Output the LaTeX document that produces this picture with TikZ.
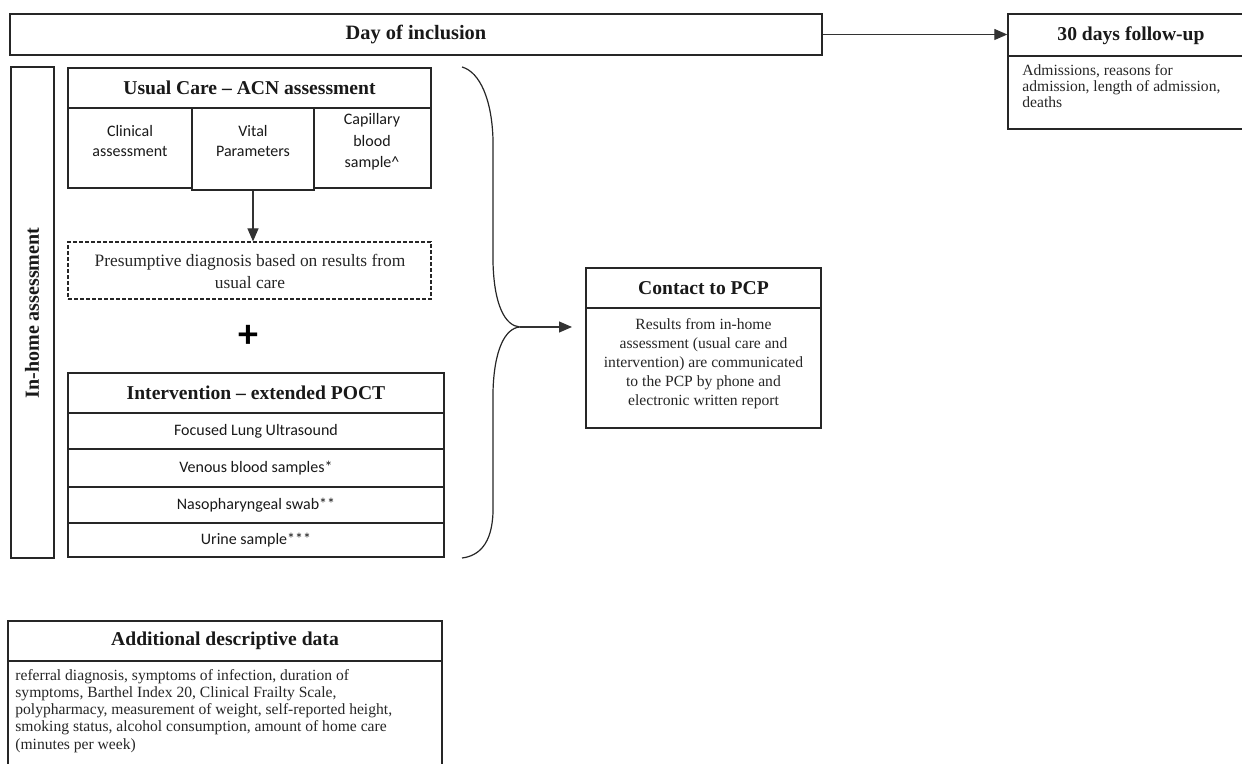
\documentclass[tikz,border=0pt]{standalone}
\usepackage{fontspec}
\setmainfont{Liberation Serif}
\newfontfamily\calfont{Carlito}
\usetikzlibrary{arrows.meta,fit}
\tikzset{
  box/.style={draw=black!85, line width=0.7pt, inner sep=0pt},
  dbox/.style={draw=black!85, line width=0.6pt, dashed, dash pattern=on 2pt off 1pt, inner sep=0pt},
  hdr/.style={inner sep=0pt, font=\fontsize{9.8}{11}\selectfont\bfseries, text=black!90},
  cell/.style={inner sep=0pt, align=center, font=\calfont\fontsize{8}{10}\selectfont, text=black!90},
  body/.style={inner sep=0pt, text=black!85},
  conn/.style={draw=black!80, line width=0.6pt, -{Triangle[length=6.5pt,width=5.5pt]}},
}
\begin{document}
\begin{tikzpicture}[x=0.5pt,y=-0.5pt]
\useasboundingbox (0,0) rectangle (1242,764);
\clip (0,0) rectangle (1242,764);

% Day of inclusion
\node[box, fit={(10,14) (822,55)}] (day) {};
\node[hdr, font=\fontsize{10.2}{12}\selectfont\bfseries] (dayt) at (day.center) {Day of inclusion};

% 30 days follow-up
\node[box, fit={(1008,14) (1254,129)}] (fu) {};
\draw[box] (1008,56) -- (1254,56);
\node[hdr] (fut) at (1131,36) {30 days follow-up};
\node[body, anchor=north west, align=left, font=\fontsize{7.8}{8.1}\selectfont] (fub) at (1022,64)
  {Admissions, reasons for\\admission, length of admission,\\deaths};
\draw[conn] (day.east) -- (day.east -| fu.west);

% In-home assessment
\node[box, fit={(11,67) (54,558)}] (inh) {};
\node[hdr, rotate=90, font=\fontsize{10}{12}\selectfont\bfseries] (inht) at (32,313) {In-home assessment};

% Usual care
\node[box, fit={(68,68) (431,108)}] (uc) {};
\node[hdr] (uct) at (uc.center) {Usual Care -- ACN assessment};
\node[box, fit={(68,108) (192,188)}] (c1) {};
\node[box, fit={(192,108) (314,190)}] (c2) {};
\node[box, fit={(314,108) (431,188)}] (c3) {};
\node[cell] (c1t) at (130,141) {Clinical\\assessment};
\node[cell] (c2t) at (253,141) {Vital\\Parameters};
\node[cell, font=\calfont\fontsize{8}{10.8}\selectfont] (c3t) at (372,142) {Capillary\\blood\\sample\textasciicircum};

% Presumptive diagnosis
\node[dbox, fit={(68,242) (431,299)}] (dx) {};
\node[body, align=center, font=\fontsize{8.7}{11}\selectfont] (dxt) at (250,271)
  {Presumptive diagnosis based on results from\\usual care};
\draw[conn] (c2.south) -- (c2.south |- dx.north);

% plus
\node[inner sep=0pt, font=\calfont\fontsize{20}{20}\selectfont\bfseries] (plus) at (248,336) {+};

% Intervention
\node[box, fit={(68,373) (444,413)}] (iv) {};
\node[hdr] (ivt) at (iv.center) {Intervention -- extended POCT};
\node[box, fit={(68,413) (444,449)}] (r1) {};
\node[box, fit={(68,449) (444,487)}] (r2) {};
\node[box, fit={(68,487) (444,523)}] (r3) {};
\node[box, fit={(68,523) (444,557)}] (r4) {};
\node[cell] (r1t) at (r1.center) {Focused Lung Ultrasound};
\node[cell] (r2t) at (r2.center) {Venous blood samples*};
\node[cell] (r3t) at (r3.center) {Nasopharyngeal swab**};
\node[cell] (r4t) at (r4.center) {Urine sample***};

% Brace
\coordinate (tip) at (520,327);
\draw[draw=black!85, line width=0.6pt]
  (462,67) .. controls (480,72) and (492,100) .. (493,140)
  -- (493,262) .. controls (494,305) and (505,326) .. (tip)
  .. controls (505,328) and (494,350) .. (493,392)
  -- (493,512) .. controls (492,545) and (478,556) .. (462,558);

% Contact to PCP
\node[box, fit={(586,268) (821,308)}] (pcp) {};
\node[box, fit={(586,308) (821,428)}] (pcpb) {};
\node[hdr] (pcpt) at (pcp.center) {Contact to PCP};
\node[body, align=center, anchor=north, font=\fontsize{7.8}{9.5}\selectfont] (pcpbt) at (703.5,318)
  {Results from in-home\\assessment (usual care and\\intervention) are communicated\\to the PCP by phone and\\electronic written report};
\coordinate (arrend) at (572,327);
\draw[conn] (tip) -- (arrend);

% Additional descriptive data
\node[box, fit={(8,621) (442,661)}] (add) {};
\node[box, fit={(8,661) (442,800)}] (addb) {};
\node[hdr] (addt) at (add.center) {Additional descriptive data};
\node[body, anchor=north west, align=left, font=\fontsize{7.8}{8.6}\selectfont] (addbt) at (15,669)
  {referral diagnosis, symptoms of infection, duration of\\symptoms, Barthel Index 20, Clinical Frailty Scale,\\polypharmacy, measurement of weight, self-reported height,\\smoking status, alcohol consumption, amount of home care\\(minutes per week)};
\end{tikzpicture}
\end{document}
